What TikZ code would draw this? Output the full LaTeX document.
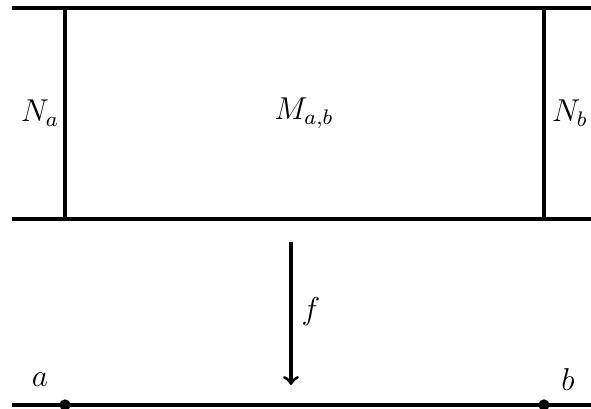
\documentclass[tikz,border=0pt]{standalone}
\begin{document}
\begin{tikzpicture}[line width=1.5pt, every node/.style={font=\large}]
                \useasboundingbox (0,0) rectangle (7.88,5.453);
                % the strip
                \coordinate (tl) at (0.16,5.347);
                \coordinate (tr) at (7.88,5.347);
                \coordinate (ml) at (0.16,2.533);
                \coordinate (mr) at (7.88,2.533);
                \coordinate (ta) at (0.867,5.347);
                \coordinate (ma) at (0.867,2.533);
                \coordinate (tb) at (7.253,5.347);
                \coordinate (mb) at (7.253,2.533);
                \draw (tl) -- (tr);
                \draw (ml) -- (mr);
                \draw (ta) -- (ma);
                \draw (tb) -- (mb);
                \node (Na) at (0.533,3.947) {$N_a$};
                \node (Mab) at (4.053,3.947) {$M_{a,b}$};
                \node (Nb) at (7.6,3.947) {$N_b$};
                % the map
                \coordinate (fs) at (3.88,2.227);
                \coordinate (fe) at (3.88,0.32);
                \draw[->, line width=1.2pt] (fs) -- (fe);
                \node (f) at (4.147,1.293) {$f$};
                % the interval
                \coordinate (bl) at (0.16,0.053);
                \coordinate (br) at (7.88,0.053);
                \draw (bl) -- (br);
                \fill (0.867,0.053) circle (0.075);
                \fill (7.253,0.053) circle (0.075);
                \node (a) at (0.533,0.387) {$a$};
                \node (b) at (7.573,0.387) {$b$};
            \end{tikzpicture}
\end{document}
